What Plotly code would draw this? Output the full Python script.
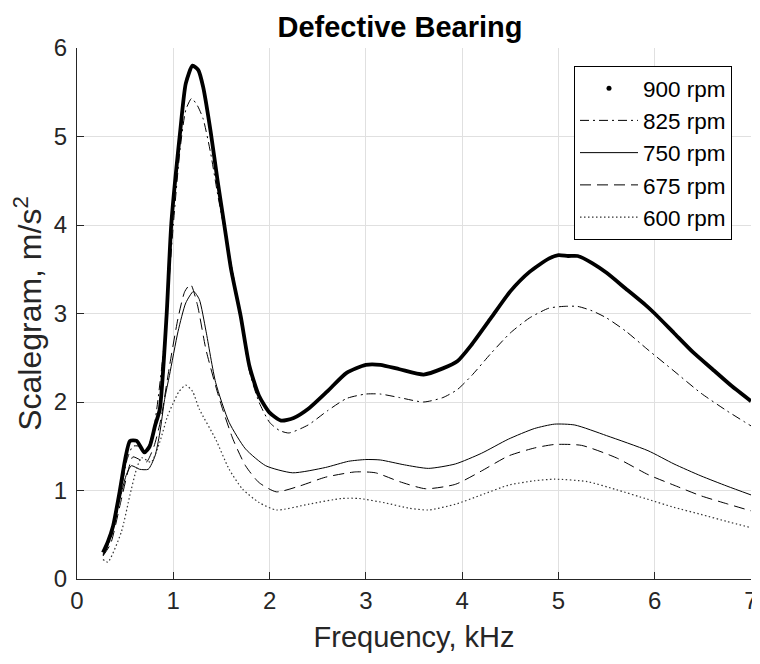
import plotly.graph_objects as go

# ---------------- data ----------------
x_900 = [0.27, 0.32, 0.375, 0.445, 0.50, 0.55, 0.62, 0.70, 0.755, 0.81, 0.86, 0.93, 0.98, 1.07, 1.13, 1.20,
         1.26, 1.31, 1.39, 1.46, 1.53, 1.60, 1.70, 1.79, 1.89, 2.0, 2.12, 2.25, 2.41, 2.6, 2.8, 3.0,
         3.15, 3.35, 3.6, 3.8, 3.95, 4.1, 4.3, 4.5, 4.7, 4.9, 5.0, 5.1, 5.2, 5.35, 5.5, 5.7, 5.9, 6.0,
         6.2, 6.4, 6.6, 6.8, 7.0]
y_900 = [0.30, 0.42, 0.60, 1.00, 1.35, 1.56, 1.56, 1.43, 1.50, 1.73, 1.92, 2.97, 4.02, 5.04, 5.60, 5.80,
         5.75, 5.56, 5.04, 4.50, 4.00, 3.50, 2.97, 2.41, 2.07, 1.88, 1.79, 1.82, 1.93, 2.12, 2.33, 2.42,
         2.42, 2.37, 2.31, 2.38, 2.46, 2.65, 2.95, 3.25, 3.47, 3.62, 3.66, 3.65, 3.65, 3.57, 3.46, 3.28, 3.10, 3.00,
         2.78, 2.56, 2.37, 2.18, 2.01]

x_825 = [0.27, 0.35, 0.45, 0.52, 0.58, 0.65, 0.72, 0.80, 0.90, 1.0, 1.07, 1.13, 1.19, 1.25, 1.31, 1.39,
         1.46, 1.53, 1.62, 1.70, 1.79, 1.89, 2.0, 2.1, 2.2, 2.4, 2.6, 2.8, 3.0, 3.15, 3.35, 3.6,
         3.8, 3.95, 4.1, 4.3, 4.5, 4.7, 4.9, 5.05, 5.2, 5.35, 5.5, 5.7, 5.93, 6.2, 6.48, 6.75, 7.0]
y_825 = [0.28, 0.45, 0.95, 1.35, 1.50, 1.50, 1.45, 1.72, 2.60, 4.00, 4.85, 5.30, 5.43, 5.35, 5.20, 4.80,
         4.35, 3.95, 3.45, 2.95, 2.35, 2.00, 1.77, 1.68, 1.65, 1.74, 1.90, 2.04, 2.09, 2.09, 2.05, 2.00,
         2.05, 2.14, 2.30, 2.55, 2.78, 2.95, 3.06, 3.08, 3.08, 3.03, 2.95, 2.80, 2.59, 2.35, 2.10, 1.90, 1.73]

x_750 = [0.27, 0.31, 0.43, 0.51, 0.565, 0.65, 0.74, 0.81, 0.86, 0.91, 0.96, 1.05, 1.13, 1.21, 1.27, 1.34,
         1.44, 1.58, 1.75, 1.96, 2.24, 2.58, 2.82, 3.0, 3.15, 3.4, 3.65, 3.93, 4.2, 4.48, 4.75, 4.96,
         5.17, 5.5, 5.93, 6.2, 6.48, 6.75, 7.0]
y_750 = [0.27, 0.34, 0.83, 1.17, 1.28, 1.24, 1.24, 1.39, 1.65, 2.03, 2.30, 2.80, 3.12, 3.25, 3.16, 2.80,
         2.22, 1.77, 1.47, 1.28, 1.20, 1.26, 1.33, 1.35, 1.345, 1.29, 1.25, 1.30, 1.42, 1.58, 1.70, 1.75,
         1.74, 1.62, 1.45, 1.30, 1.165, 1.05, 0.95]

x_675 = [0.27, 0.35, 0.45, 0.53, 0.58, 0.65, 0.72, 0.80, 0.87, 0.96, 1.05, 1.12, 1.18, 1.25, 1.34, 1.48,
         1.62, 1.75, 1.89, 2.07, 2.31, 2.58, 2.89, 3.1, 3.35, 3.62, 3.93, 4.2, 4.48, 4.75, 4.96, 5.24,
         5.6, 5.93, 6.2, 6.48, 6.75, 7.0]
y_675 = [0.26, 0.40, 0.85, 1.22, 1.38, 1.35, 1.32, 1.50, 1.80, 2.40, 2.95, 3.25, 3.33, 3.10, 2.59, 2.03,
         1.58, 1.28, 1.09, 0.985, 1.05, 1.15, 1.21, 1.20, 1.10, 1.02, 1.07, 1.22, 1.39, 1.48, 1.52, 1.51,
         1.37, 1.18, 1.06, 0.94, 0.85, 0.77]

x_600 = [0.27, 0.32, 0.46, 0.55, 0.62, 0.67, 0.77, 0.86, 0.94, 1.0, 1.06, 1.13, 1.20, 1.27, 1.44, 1.58,
         1.72, 1.89, 2.07, 2.41, 2.75, 2.93, 3.2, 3.45, 3.65, 3.93, 4.2, 4.48, 4.75, 4.96, 5.3,
         5.6, 5.93, 6.2, 6.48, 6.75, 7.0]
y_600 = [0.22, 0.19, 0.53, 0.95, 1.25, 1.37, 1.32, 1.55, 1.84, 1.99, 2.12, 2.19, 2.12, 1.92, 1.58, 1.24,
         1.015, 0.865, 0.78, 0.846, 0.91, 0.91, 0.86, 0.80, 0.78, 0.845, 0.95, 1.06, 1.11, 1.128, 1.10,
         1.01, 0.90, 0.81, 0.73, 0.65, 0.58]

x_ticks = [0, 1, 2, 3, 4, 5, 6, 7]
y_ticks = [0, 1, 2, 3, 4, 5, 6]
names = ["900 rpm", "825 rpm", "750 rpm", "675 rpm", "600 rpm"]

FONT = "Liberation Sans, Arial, Helvetica, sans-serif"
INK = "#262626"

# page body has an 8px default margin: figure is sized/placed to compensate
W, H = 752, 656
OFF = 8

fig = go.Figure()

# 900 rpm: thick dense-dot curve drawn as a heavy line, with a dot-only legend entry
fig.add_trace(go.Scatter(x=x_900, y=y_900, mode="lines", line=dict(color="black", width=3.8, shape="spline", smoothing=0.6),
                         showlegend=False, hoverinfo="skip"))
fig.add_trace(go.Scatter(x=[None], y=[None], mode="markers", name=names[0],
                         marker=dict(color="black", size=5, symbol="circle")))
fig.add_trace(go.Scatter(x=x_825, y=y_825, mode="lines", name=names[1],
                         line=dict(color="black", width=1, dash="9px,4px,2px,4px", shape="spline", smoothing=0.6)))
fig.add_trace(go.Scatter(x=x_750, y=y_750, mode="lines", name=names[2],
                         line=dict(color="black", width=1, shape="spline", smoothing=0.6)))
fig.add_trace(go.Scatter(x=x_675, y=y_675, mode="lines", name=names[3],
                         line=dict(color="black", width=1, dash="11px,6px", shape="spline", smoothing=0.6)))
fig.add_trace(go.Scatter(x=x_600, y=y_600, mode="lines", name=names[4],
                         line=dict(color="#333333", width=1.2, dash="1.5px,2.5px", shape="spline", smoothing=0.6)))

axis_common = dict(
    showgrid=True, gridcolor="#e0e0e0", gridwidth=1,
    showline=True, linecolor=INK, linewidth=1,
    ticks="inside", ticklen=7, tickcolor=INK, tickwidth=1,
    tickfont=dict(family=FONT, size=24, color=INK),
    zeroline=False, mirror=False, automargin=False,
)

fig.update_layout(
    width=W, height=H,
    margin=dict(l=77 - OFF, r=9, t=48 - OFF, b=85),
    paper_bgcolor="white", plot_bgcolor="white",
    font=dict(family=FONT, color=INK),
    title=dict(text="<b>Defective Bearing</b>", x=(400 - OFF) / W, xanchor="center", xref="container",
               y=1 - (27 - OFF) / H, yanchor="middle", yref="container",
               font=dict(family=FONT, size=29, color="black")),
    xaxis=dict(range=[0, 7], tickvals=x_ticks, ticktext=[str(v) for v in x_ticks],
               title=dict(text="Frequency, kHz", font=dict(family=FONT, size=29, color=INK), standoff=13),
               **axis_common),
    yaxis=dict(range=[0, 6], tickvals=y_ticks, ticktext=[str(v) for v in y_ticks], ticklabelstandoff=4,
               title=dict(text="Scalegram, m/s<sup>2</sup>", font=dict(family=FONT, size=32, color=INK), standoff=6),
               **axis_common),
    legend=dict(x=(574 - 77) / 674, y=(579 - 66) / 531, xanchor="left", yanchor="top",
                bgcolor="white", bordercolor="black", borderwidth=1,
                font=dict(family=FONT, size=22.5, color="black"),
                traceorder="normal", itemwidth=58),
)

fig.write_html("out.html")
